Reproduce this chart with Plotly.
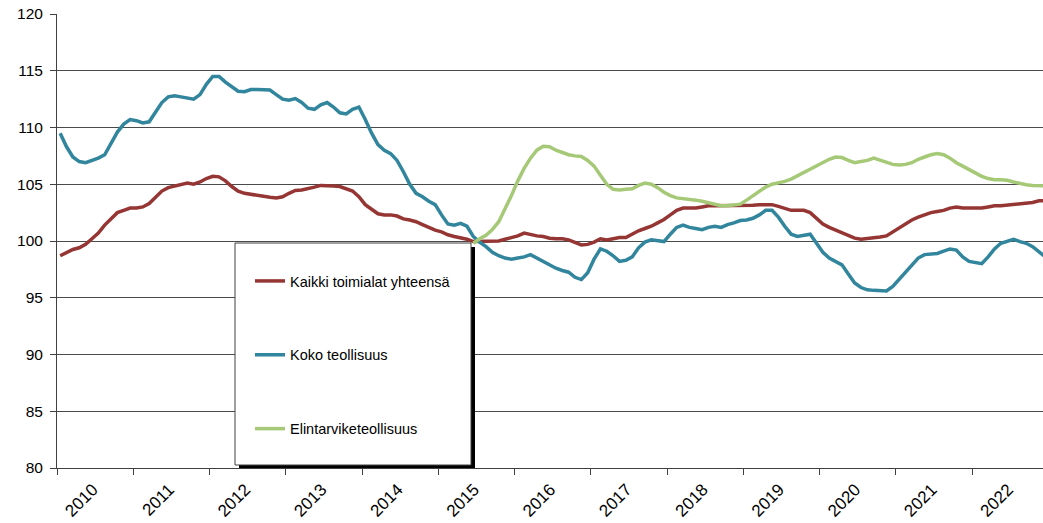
import plotly.graph_objects as go

# ---------------- data (monthly, Jan 2010 .. Dec 2022) ----------------
start_year = 2010
years = list(range(2010, 2023))
year_labels = [str(y) for y in years]

kaikki = [
    98.7, 99.0, 99.25, 99.4, 99.7, 100.2, 100.7, 101.4, 102.0, 102.5, 102.7, 102.9,
    102.9, 103.0, 103.3, 103.8, 104.4, 104.7, 104.85, 105.0, 105.1, 105.0, 105.2, 105.5,
    105.7, 105.65, 105.3, 104.8, 104.4, 104.2, 104.1, 104.0, 103.95, 103.85, 103.8, 103.9,
    104.2, 104.45, 104.5, 104.6, 104.75, 104.9, 104.9, 104.85, 104.8, 104.6, 104.4, 103.9,
    103.2, 102.8, 102.4, 102.3, 102.3, 102.2, 101.95, 101.85, 101.7, 101.45, 101.2, 100.95,
    100.8, 100.55, 100.4, 100.3, 100.15, 99.95, 99.95, 99.95, 100.0, 100.0, 100.15, 100.3,
    100.45, 100.7, 100.55, 100.45, 100.4, 100.25, 100.2, 100.2, 100.1, 99.85, 99.65, 99.7,
    99.9, 100.2, 100.1, 100.2, 100.3, 100.3, 100.6, 100.9, 101.1, 101.3, 101.6, 101.9,
    102.3, 102.7, 102.9, 102.9, 102.9, 103.0, 103.1, 103.1, 103.1, 103.1, 103.1, 103.1,
    103.1, 103.15, 103.2, 103.2, 103.2, 103.05, 102.9, 102.7, 102.7, 102.7, 102.5, 102.0,
    101.5, 101.2, 100.95, 100.75, 100.5, 100.25, 100.15, 100.2, 100.3, 100.35, 100.45, 100.8,
    101.2, 101.55, 101.85, 102.1, 102.3, 102.5, 102.6, 102.7, 102.9, 103.0, 102.9, 102.9,
    102.9, 102.9, 103.0, 103.1, 103.1, 103.15, 103.2, 103.3, 103.35, 103.4, 103.55, 103.55,
]

koko_teollisuus = [
    109.5, 108.3, 107.4, 107.0, 106.9, 107.1, 107.3, 107.6, 108.6, 109.6, 110.3, 110.7,
    110.6, 110.4, 110.5, 111.3, 112.2, 112.7, 112.8, 112.7, 112.6, 112.5, 112.9, 113.8,
    114.5, 114.5, 114.0, 113.6, 113.2, 113.15, 113.35, 113.35, 113.35, 113.3, 112.9, 112.5,
    112.4, 112.55, 112.2, 111.7, 111.6, 112.0, 112.2, 111.8, 111.3, 111.2, 111.6, 111.8,
    110.7, 109.5, 108.5, 108.0, 107.7, 107.1, 106.1, 105.0, 104.2, 103.9, 103.5, 103.2,
    102.3, 101.5, 101.4, 101.55, 101.3, 100.4, 99.9, 99.5, 99.0, 98.7, 98.5, 98.4,
    98.5, 98.6, 98.8, 98.5, 98.2, 97.9, 97.6, 97.4, 97.25, 96.8, 96.6, 97.2,
    98.4, 99.3, 99.1, 98.7, 98.2, 98.3, 98.6, 99.4, 99.9, 100.1, 100.0, 99.95,
    100.6, 101.2, 101.4, 101.2, 101.1, 101.0, 101.2, 101.3, 101.2, 101.45, 101.6, 101.8,
    101.85, 102.0, 102.3, 102.7, 102.7, 102.1, 101.3, 100.6, 100.4, 100.5, 100.6, 99.8,
    99.0, 98.5, 98.2, 97.9, 97.1, 96.3, 95.9, 95.7, 95.65, 95.6, 95.6, 96.0,
    96.6, 97.2, 97.9, 98.5, 98.8, 98.85, 98.9, 99.1, 99.3, 99.2, 98.6, 98.2,
    98.1, 98.0, 98.6, 99.3, 99.8, 100.0, 100.15, 99.95, 99.8, 99.5, 99.0, 98.6,
]

# Elintarviketeollisuus: visible from mid-2015 (earlier part hidden behind legend)
elintarvike = [None] * 65 + [
    99.8, 100.2, 100.5, 101.0, 101.7, 102.8, 104.0,
    105.3, 106.4, 107.3, 108.0, 108.35, 108.3, 108.0, 107.8, 107.6, 107.5, 107.45, 107.1,
    106.6, 105.8, 105.0, 104.55, 104.5, 104.55, 104.6, 104.9, 105.1, 105.0, 104.7, 104.3,
    104.0, 103.8, 103.75, 103.7, 103.6, 103.5, 103.35, 103.2, 103.1, 103.1, 103.15, 103.25,
    103.6, 104.0, 104.4, 104.75, 105.0, 105.1, 105.25, 105.45, 105.75, 106.0, 106.3, 106.6,
    106.9, 107.2, 107.4, 107.35, 107.1, 106.9, 107.0, 107.1, 107.3, 107.1, 106.9, 106.75,
    106.7, 106.75, 106.9, 107.2, 107.4, 107.6, 107.7, 107.6, 107.3, 106.9, 106.6, 106.3,
    106.0, 105.7, 105.5, 105.4, 105.4, 105.35, 105.2, 105.05, 104.95, 104.9, 104.9, 104.85,
]

series_names = ["Kaikki toimialat yhteensä", "Koko teollisuus", "Elintarviketeollisuus"]
series_values = [kaikki, koko_teollisuus, elintarvike]
series_colors = ["#963634", "#31859C", "#A6C978"]

# month positions (centre of each month) as fractional years
x_months = [start_year + (i + 0.5) / 12 for i in range(len(kaikki))]

# ---------------- figure ----------------
W, H = 1043, 523
ML, MR, MT, MB = 57, 0, 14, 55
PW = W - ML - MR
PH = H - MT - MB
px_per_year = 76.27
x_min = 2010
x_max = x_min + PW / px_per_year

FONT = "Liberation Sans, Arial, sans-serif"

fig = go.Figure()
for i, (name, vals, col) in enumerate(zip(series_names, series_values, series_colors)):
    fig.add_trace(go.Scatter(
        x=x_months, y=vals, name=name, mode="lines",
        line=dict(color=col, width=3.5),
        legendgroup=f"g{i}", connectgaps=False,
    ))


def px_x(p):
    return (p - ML) / PW


def px_y(p):
    return 1 - (p - MT) / PH


# legend box (shadow + white frame)
box_l, box_t, box_r, box_b = 235, 243, 471, 465
fig.add_shape(type="rect", xref="paper", yref="paper", layer="above",
              x0=px_x(box_l + 4), x1=px_x(box_r + 4), y0=px_y(box_b + 3), y1=px_y(box_t + 4),
              fillcolor="black", line=dict(width=0))
fig.add_shape(type="rect", xref="paper", yref="paper", layer="above",
              x0=px_x(box_l), x1=px_x(box_r), y0=px_y(box_b), y1=px_y(box_t),
              fillcolor="white", line=dict(color="#404040", width=1))

fig.update_layout(
    width=W, height=H,
    margin=dict(l=ML, r=MR, t=MT, b=MB, autoexpand=False),
    paper_bgcolor="white", plot_bgcolor="white",
    font=dict(family=FONT, color="#000000"),
    showlegend=True,
    legend=dict(
        x=px_x(250), y=px_y(265), xanchor="left", yanchor="top",
        xref="paper", yref="paper",
        bgcolor="rgba(0,0,0,0)", borderwidth=0,
        font=dict(family=FONT, size=14.5, color="#000000"),
        tracegroupgap=52, traceorder="grouped", itemwidth=30,
    ),
    xaxis=dict(
        range=[x_min, x_max],
        automargin=False,
        tickmode="array",
        tickvals=[y + 0.47 for y in years],
        ticktext=year_labels,
        tickangle=-45,
        ticks="outside", ticklen=4, tickcolor="rgba(0,0,0,0)",
        tickfont=dict(family=FONT, size=17, color="#000000"),
        showgrid=False, zeroline=False,
        showline=True, linecolor="#404040", linewidth=1,
        minor=dict(tickmode="array", tickvals=years + [2023],
                   ticks="outside", ticklen=6, tickcolor="#404040", tickwidth=1,
                   showgrid=False),
    ),
    yaxis=dict(
        range=[80, 120],
        automargin=False,
        tickmode="linear", tick0=80, dtick=5,
        ticks="outside", ticklen=6, tickcolor="#404040",
        ticklabelstandoff=4,
        tickfont=dict(family=FONT, size=15.5, color="#000000"),
        showgrid=True, gridcolor="#4a4a4a", gridwidth=1,
        zeroline=False,
        showline=True, linecolor="#404040", linewidth=1,
    ),
)

fig.write_html(
    "out.html",
    config={"displayModeBar": False},
    post_script="document.body.style.margin='0';document.body.style.overflow='hidden';",
)
